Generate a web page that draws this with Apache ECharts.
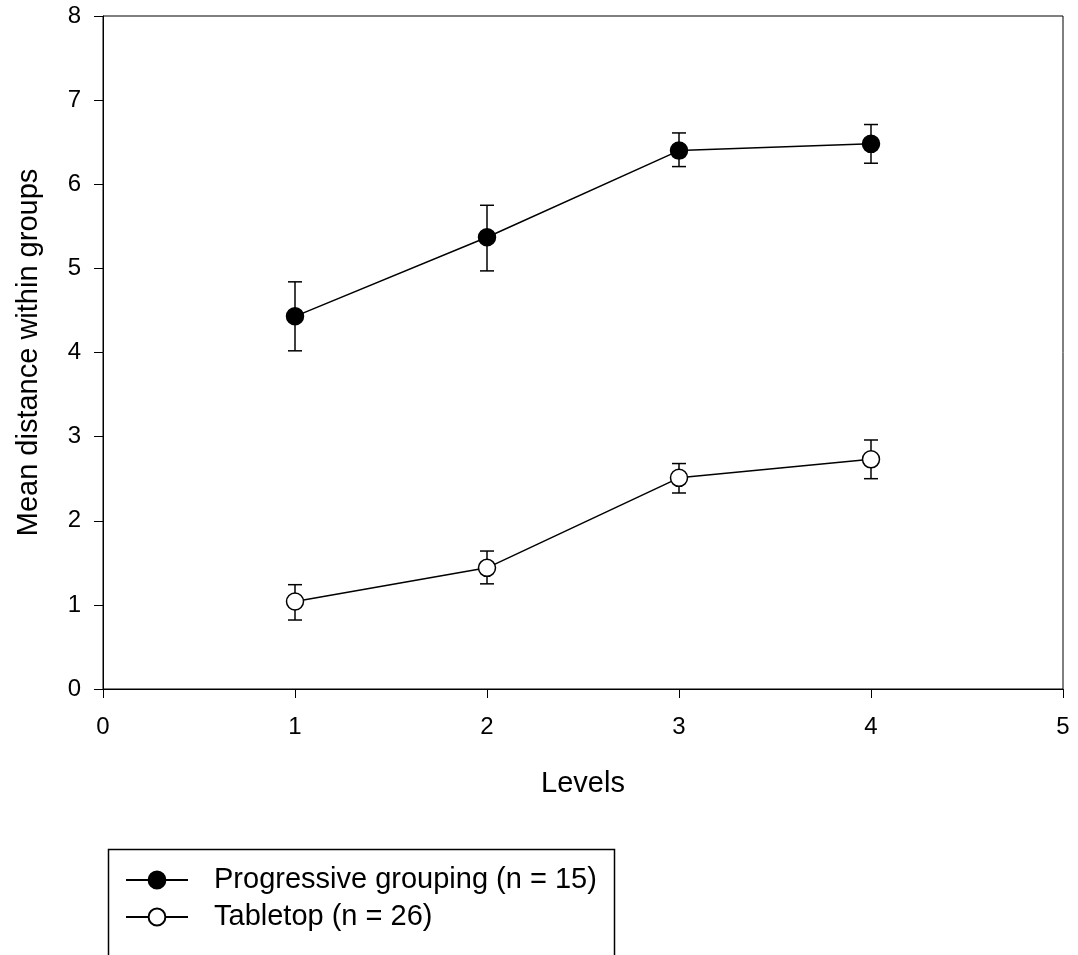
<!DOCTYPE html>
<html>
<head>
<meta charset="utf-8">
<title>Mean distance within groups</title>
<script src="https://cdn.jsdelivr.net/npm/echarts@6/dist/echarts.min.js"></script>
<style>
  html, body { margin: 0; padding: 0; background: #fff; }
  #chart { width: 1078px; height: 955px; }
</style>
</head>
<body>
<div id="chart"></div>
<script>
// values
var levels = [1, 2, 3, 4];
var xTicks = [0, 1, 2, 3, 4, 5];

var progName = 'Progressive grouping (n = 15)';
var progMean = [4.43, 5.37, 6.40, 6.48];
var progLow  = [4.02, 4.97, 6.21, 6.25];
var progHigh = [4.84, 5.75, 6.61, 6.71];

var tableName = 'Tabletop (n = 26)';
var tableMean = [1.04, 1.44, 2.51, 2.73];
var tableLow  = [0.82, 1.25, 2.33, 2.50];
var tableHigh = [1.24, 1.64, 2.68, 2.96];

var font = 'Liberation Sans, Arial, sans-serif';

function pairs(xs, ys) {
    return xs.map(function (x, i) { return [x, ys[i]]; });
}

function errData(xs, lo, hi) {
    return xs.map(function (x, i) { return [x, lo[i], hi[i]]; });
}

// vertical bar with caps
function renderErr(params, api) {
    var x = api.value(0);
    var lo = api.coord([x, api.value(1)]);
    var hi = api.coord([x, api.value(2)]);
    var cap = 7;
    var style = { stroke: '#000', lineWidth: 1.5 };
    return {
        type: 'group',
        children: [
            { type: 'line', shape: { x1: lo[0], y1: lo[1], x2: hi[0], y2: hi[1] }, style: style },
            { type: 'line', shape: { x1: lo[0] - cap, y1: lo[1], x2: lo[0] + cap, y2: lo[1] }, style: style },
            { type: 'line', shape: { x1: hi[0] - cap, y1: hi[1], x2: hi[0] + cap, y2: hi[1] }, style: style }
        ]
    };
}

var chart = echarts.init(document.getElementById('chart'));

var option = {
    animation: false,
    backgroundColor: '#fff',
    textStyle: { fontFamily: font, color: '#000' },
    grid: {
        left: 103,
        right: 15,
        top: 16,
        bottom: 266,
        show: true,
        borderColor: '#000',
        borderWidth: 1
    },
    // legend frame, runs off the bottom of the page like the original
    graphic: [{
        type: 'rect',
        left: 106,
        top: 847,
        shape: { width: 506, height: 160 },
        style: { fill: 'none', stroke: '#000', lineWidth: 1.5 },
        silent: true
    }],
    legend: {
        left: 125,
        top: 865,
        orient: 'vertical',
        align: 'left',
        itemWidth: 62,
        itemHeight: 21,
        itemGap: 7,
        padding: 0,
        data: [progName, tableName],
        textStyle: {
            fontFamily: font,
            fontSize: 29,
            lineHeight: 30,
            color: '#000',
            padding: [0, 0, 0, 21]
        }
    },
    xAxis: {
        type: 'value',
        min: 0,
        max: 5,
        interval: 1,
        name: 'Levels',
        nameLocation: 'middle',
        nameGap: 80,
        nameTextStyle: { fontFamily: font, fontSize: 29, color: '#000' },
        axisLine: { show: true, lineStyle: { color: '#000', width: 1 } },
        axisTick: { show: true, inside: false, length: 9, lineStyle: { color: '#000' } },
        axisLabel: {
            margin: 26,
            fontFamily: font,
            fontSize: 24,
            color: '#000',
            customValues: xTicks
        },
        splitLine: { show: false }
    },
    yAxis: {
        type: 'value',
        min: 0,
        max: 8,
        interval: 1,
        name: 'Mean distance within groups',
        nameLocation: 'middle',
        nameGap: 60,
        nameTextStyle: { fontFamily: font, fontSize: 29, color: '#000' },
        axisLine: { show: true, lineStyle: { color: '#000', width: 1 } },
        axisTick: { show: true, inside: false, length: 9, lineStyle: { color: '#000' } },
        axisLabel: { margin: 22, fontFamily: font, fontSize: 24, color: '#000' },
        splitLine: { show: false }
    },
    series: [
        {
            name: progName + ' err',
            type: 'custom',
            renderItem: renderErr,
            data: errData(levels, progLow, progHigh),
            encode: { x: 0, y: [1, 2] },
            z: 2,
            silent: true
        },
        {
            name: tableName + ' err',
            type: 'custom',
            renderItem: renderErr,
            data: errData(levels, tableLow, tableHigh),
            encode: { x: 0, y: [1, 2] },
            z: 2,
            silent: true
        },
        {
            name: progName,
            type: 'line',
            data: pairs(levels, progMean),
            symbol: 'circle',
            symbolSize: 17,
            z: 3,
            lineStyle: { color: '#000', width: 1.5 },
            itemStyle: { color: '#000', borderColor: '#000', borderWidth: 1.5 }
        },
        {
            name: tableName,
            type: 'line',
            data: pairs(levels, tableMean),
            symbol: 'circle',
            symbolSize: 17,
            z: 3,
            lineStyle: { color: '#000', width: 1.5 },
            itemStyle: { color: '#fff', borderColor: '#000', borderWidth: 1.5 }
        }
    ]
};

chart.setOption(option);
</script>
</body>
</html>
